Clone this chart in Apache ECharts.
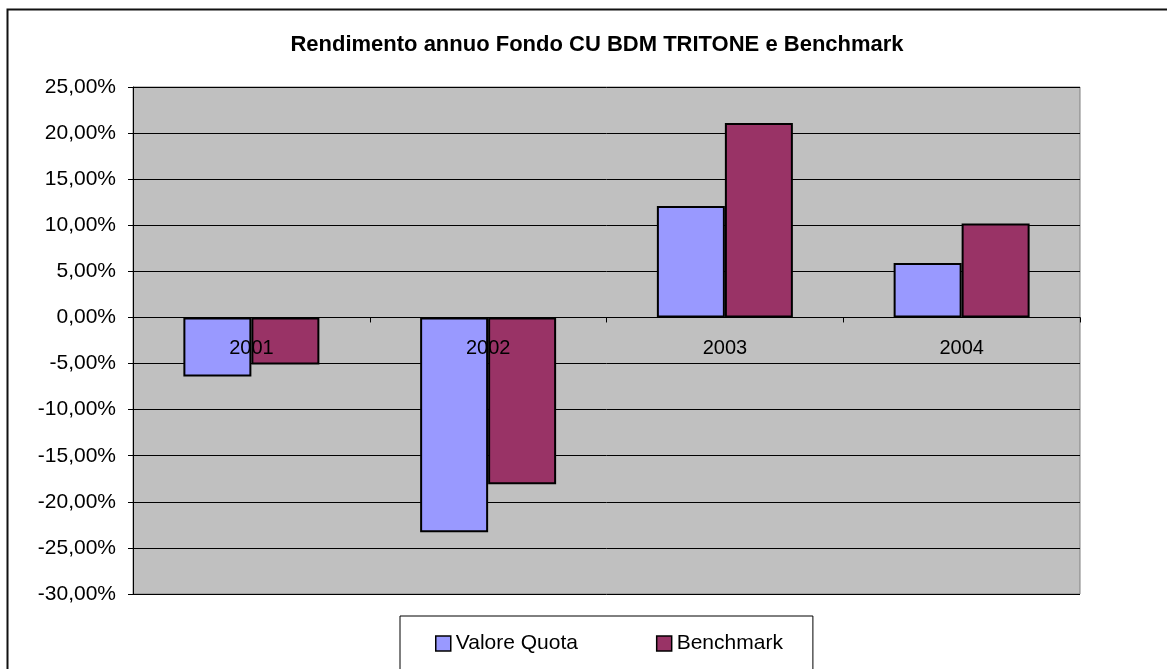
<!DOCTYPE html>
<html>
<head>
<meta charset="utf-8">
<script src="https://cdn.jsdelivr.net/npm/echarts@6/dist/echarts.min.js"></script>
<style>
html,body{margin:0;padding:0;background:#fff;}
#chart{width:1167px;height:669px;}
</style>
</head>
<body>
<div id="chart"></div>
<script>
var categories = ['2001', '2002', '2003', '2004'];
var valoreQuota = [-6.4, -23.3, 12.1, 5.9];
var benchmark = [-5.1, -18.1, 21.1, 10.2];
var seriesNames = ['Valore Quota', 'Benchmark'];
var titleText = 'Rendimento annuo Fondo CU BDM TRITONE e Benchmark';

var chart = echarts.init(document.getElementById('chart'));
var font = 'Liberation Sans, Arial, sans-serif';
var gridBottom = 75;
var option = {
  animation: false,
  backgroundColor: '#fff',
  textStyle: {fontFamily: font},
  title: {
    text: titleText,
    left: 592, top: 29, textAlign: 'center',
    textStyle: {fontFamily: font, fontSize: 22, fontWeight: 'bold', color: '#000'}
  },
  graphic: [{
    type: 'rect', left: 5, top: 7, z: -10, silent: true,
    shape: {width: 1170, height: 700},
    style: {fill: 'none', stroke: '#111', lineWidth: 2}
  }],
  legend: {
    data: seriesNames,
    left: 400, top: 616,
    padding: [17, 30, 34, 35],
    itemGap: 78,
    itemWidth: 15, itemHeight: 15,
    borderColor: '#000', borderWidth: 1,
    icon: 'rect',
    itemStyle: {borderColor: '#000', borderWidth: 1.5},
    textStyle: {fontFamily: font, fontSize: 21, color: '#000'}
  },
  grid: {
    left: 133, right: 87, top: 87, bottom: gridBottom,
    show: true, backgroundColor: '#C0C0C0', borderColor: '#808080', borderWidth: 1
  },
  xAxis: {
    type: 'category',
    data: categories,
    z: 10,
    axisLine: {onZero: false, lineStyle: {color: '#000', width: 1}},
    axisTick: {show: true, length: 5, lineStyle: {color: '#000'}},
    axisLabel: {margin: 21, fontSize: 20, color: '#000', fontFamily: font},
    splitLine: {show: false}
  },
  yAxis: {
    type: 'value',
    min: -30, max: 25, interval: 5,
    axisLine: {show: true, lineStyle: {color: '#000'}},
    axisTick: {show: true, length: 5, lineStyle: {color: '#000'}},
    axisLabel: {
      fontSize: 21, color: '#000', fontFamily: font, margin: 17,
      formatter: function (v) { return v.toFixed(2).replace('.', ',') + '%'; }
    },
    splitLine: {show: true, lineStyle: {color: '#000', width: 1}}
  },
  series: [
    {
      name: seriesNames[0], type: 'bar', data: valoreQuota,
      barWidth: 68, barGap: '0%',
      itemStyle: {color: '#9999FF', borderColor: '#000', borderWidth: 2}
    },
    {
      name: seriesNames[1], type: 'bar', data: benchmark,
      barWidth: 68, barGap: '0%',
      itemStyle: {color: '#993366', borderColor: '#000', borderWidth: 2}
    }
  ]
};
chart.setOption(option);
// place the category axis on the zero line (labels follow it)
var yZero = chart.convertToPixel({yAxisIndex: 0}, 0);
var gridBottomPx = 669 - gridBottom;
chart.setOption({xAxis: {offset: yZero - gridBottomPx}});
</script>
</body>
</html>
